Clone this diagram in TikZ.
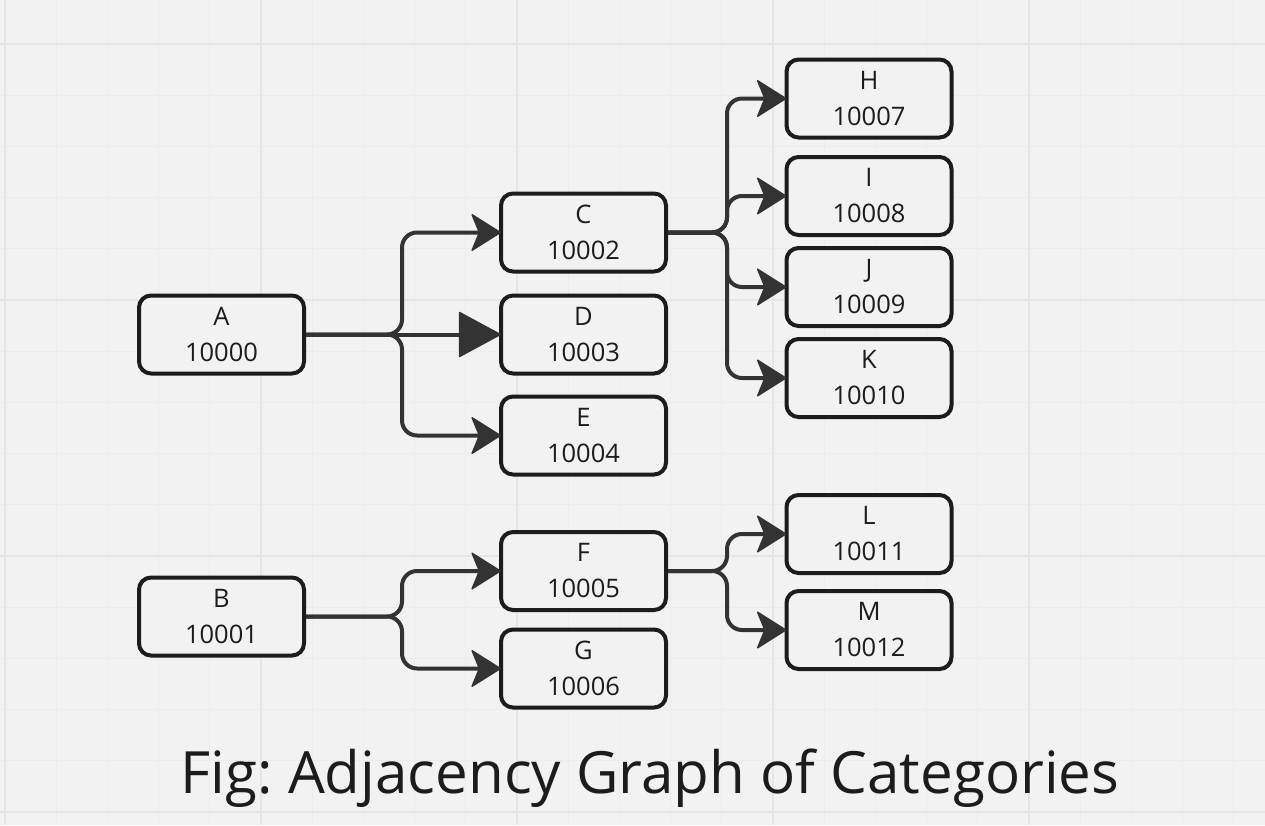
\documentclass[tikz,border=0pt]{standalone}
\usepackage{fontspec}
\setmainfont{Open Sans}
\usetikzlibrary{arrows.meta}
\frenchspacing
\definecolor{bgc}{HTML}{F2F2F2}
\definecolor{gridminor}{HTML}{ECECEC}
\definecolor{gridmajor}{HTML}{E6E6E6}
\definecolor{boxc}{HTML}{1C1C1C}
\definecolor{linec}{HTML}{333333}
\tikzset{
  catbox/.style={draw=boxc, fill=bgc, line width=4pt, rounded corners=12pt,
    minimum width=165pt, minimum height=78pt, inner sep=0pt, outer sep=0pt,
    align=center, text=boxc, font=\fontsize{25.5}{36}\selectfont},
  conn/.style={draw=linec, line width=4pt, rounded corners=15pt, shorten <=2pt,
    -{Stealth[length=31pt, width=39pt, inset=8pt, line width=1.5pt, round]}},
  connbig/.style={draw=linec, line width=4pt, shorten <=2pt,
    -{Triangle[length=43pt, width=46pt, line width=1.5pt, round]}},
}
\begin{document}
\begin{tikzpicture}[x=1pt, y=-1pt]
\useasboundingbox (0,0) rectangle (1265,825);
\fill[bgc] (0,0) rectangle (1265,825);
% grid
\foreach \i in {0,...,24} {
  \draw[gridminor, line width=1pt] ({5+51.2*\i},0) -- ({5+51.2*\i},825);
}
\foreach \i in {0,...,15} {
  \draw[gridminor, line width=1pt] (0,{44+51.2*\i}) -- (1265,{44+51.2*\i});
}
\foreach \i in {0,...,4} {
  \draw[gridmajor, line width=1.5pt] ({5+256*\i},0) -- ({5+256*\i},825);
}
\foreach \i in {0,...,3} {
  \draw[gridmajor, line width=1.5pt] (0,{44+256*\i}) -- (1265,{44+256*\i});
}
% nodes
\node[catbox] (A) at (221.5,334.5) {A\\10000};
\node[catbox] (B) at (221.5,616.5) {B\\10001};
\node[catbox] (C) at (583.5,232.5) {C\\10002};
\node[catbox] (D) at (583.5,334.5) {D\\10003};
\node[catbox] (E) at (583.5,435.5) {E\\10004};
\node[catbox] (F) at (583.5,571) {F\\10005};
\node[catbox] (G) at (583.5,668.5) {G\\10006};
\node[catbox] (H) at (869,98.5) {H\\10007};
\node[catbox] (I) at (869,196) {I\\10008};
\node[catbox] (J) at (869,287) {J\\10009};
\node[catbox] (K) at (869,378) {K\\10010};
\node[catbox] (L) at (869,534) {L\\10011};
\node[catbox] (M) at (869,630) {M\\10012};
% junctions
\coordinate (jA) at (402,334.5);
\coordinate (jB) at (402,616.5);
\coordinate (jC) at (727,232.5);
\coordinate (jF) at (727,571);
% connectors
\draw[conn] (A.east) -- (jA) |- (C.west);
\draw[connbig] (A.east) -- (D.west);
\draw[conn] (A.east) -- (jA) |- (E.west);
\draw[conn] (B.east) -- (jB) |- (F.west);
\draw[conn] (B.east) -- (jB) |- (G.west);
\draw[conn] (C.east) -- (jC) |- (H.west);
\draw[conn] (C.east) -- (jC) |- (I.west);
\draw[conn] (C.east) -- (jC) |- (J.west);
\draw[conn] (C.east) -- (jC) |- (K.west);
\draw[conn] (F.east) -- (jF) |- (L.west);
\draw[conn] (F.east) -- (jF) |- (M.west);
% caption
\node[anchor=base, text=boxc, font=\fontsize{58.3}{66}\selectfont, inner sep=0pt] (cap) at (650,793) {Fig: Adjacency Graph of Categories};
\end{tikzpicture}
\end{document}
